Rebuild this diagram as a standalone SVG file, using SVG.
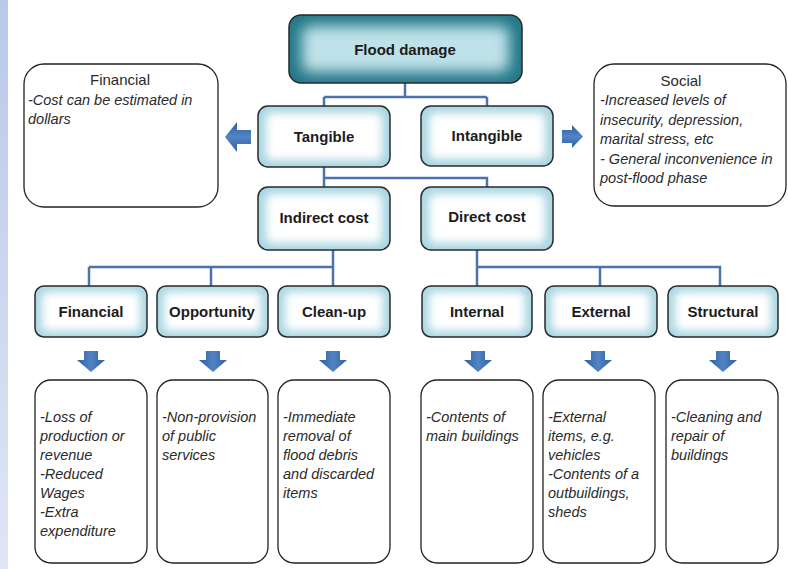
<svg xmlns="http://www.w3.org/2000/svg" width="788" height="569" viewBox="0 0 788 569">
  <defs>
    <linearGradient id="strip" x1="0" y1="0" x2="0" y2="1">
      <stop offset="0" stop-color="#b9c9ea"/>
      <stop offset="1" stop-color="#dfe6f5"/>
    </linearGradient>
    <linearGradient id="arrowGrad" x1="0" y1="0" x2="1" y2="0">
      <stop offset="0" stop-color="#2f5f9f"/>
      <stop offset="0.5" stop-color="#5283c4"/>
      <stop offset="1" stop-color="#2f5f9f"/>
    </linearGradient>
    <linearGradient id="arrowGradV" x1="0" y1="0" x2="0" y2="1">
      <stop offset="0" stop-color="#2f5f9f"/>
      <stop offset="0.5" stop-color="#5283c4"/>
      <stop offset="1" stop-color="#2f5f9f"/>
    </linearGradient>
    <filter id="soft" x="-20%" y="-30%" width="140%" height="160%">
      <feGaussianBlur stdDeviation="4"/>
    </filter>
    <filter id="softBig" x="-20%" y="-30%" width="140%" height="160%">
      <feGaussianBlur stdDeviation="7"/>
    </filter>
  </defs>
  <style>
    .base{fill:#a9d6e2}
    .inner{fill:#ffffff;filter:url(#soft)}
    .outline{fill:none;stroke:#2a2a2a;stroke-width:1.5}
    .topbase{fill:#247888}
    .topinner{fill:#bfe2e9;filter:url(#softBig)}
    .lbl{font-family:"Liberation Sans",Arial,sans-serif;font-weight:bold;font-size:15px;fill:#1c1c1c;text-anchor:middle}
    .note{fill:#ffffff;stroke:#222222;stroke-width:1.3}
    .hd{font-family:"Liberation Sans",Arial,sans-serif;font-size:15px;fill:#2a2a2a;text-anchor:middle}
    .it{font-family:"Liberation Sans",Arial,sans-serif;font-style:italic;font-size:14.5px;fill:#2a2a2a}
    .conn{fill:none;stroke:#4d73ad;stroke-width:2.5}
    .arr{fill:url(#arrowGrad)}
    .arrv{fill:url(#arrowGradV)}
  </style>

  <rect x="0" y="0" width="788" height="569" fill="#ffffff"/>
  <rect x="0" y="0" width="8" height="569" fill="url(#strip)"/>

  <g id="connectors">
    <path class="conn" d="M405,83 V97 M324,97 H487 M324,97 V106 M487,97 V106"/>
    <path class="conn" d="M324,167 V187 M324,178 H487 V187"/>
    <path class="conn" d="M333,250 V286 M89,267 H333 M89,267 V286 M211,267 V286"/>
    <path class="conn" d="M477,250 V286 M477,267 H720 V286 M600,267 V286"/>
  </g>

  <g id="flood-damage">
    <rect class="topbase" x="289" y="15" width="233" height="68" rx="12"/>
    <rect class="topinner" x="302" y="26" width="207" height="46" rx="8"/>
    <rect class="outline" x="289" y="15" width="233" height="68" rx="12"/>
    <text class="lbl" x="405" y="55">Flood damage</text>
  </g>

  <g id="tangible">
    <rect class="base" x="258" y="106" width="132" height="61" rx="10"/>
    <rect class="inner" x="266" y="113" width="116" height="47" rx="6"/>
    <rect class="outline" x="258" y="106" width="132" height="61" rx="10"/>
    <text class="lbl" x="324" y="142">Tangible</text>
  </g>

  <g id="intangible">
    <rect class="base" x="421" y="106" width="132" height="60" rx="10"/>
    <rect class="inner" x="429" y="113" width="116" height="46" rx="6"/>
    <rect class="outline" x="421" y="106" width="132" height="60" rx="10"/>
    <text class="lbl" x="487" y="141">Intangible</text>
  </g>

  <g id="financial-note">
    <rect class="note" x="24" y="64" width="194" height="143" rx="20"/>
    <text class="hd" x="120" y="85">Financial</text>
    <text class="it" x="28" y="105">-Cost can be estimated in</text>
    <text class="it" x="28" y="124">dollars</text>
  </g>

  <g id="social-note">
    <rect class="note" x="594" y="64" width="192" height="142" rx="20"/>
    <text class="hd" x="681" y="86">Social</text>
    <text class="it" x="600" y="105">-Increased levels of</text>
    <text class="it" x="600" y="124.5">insecurity, depression,</text>
    <text class="it" x="600" y="144">marital stress, etc</text>
    <text class="it" x="600" y="163.5">- General inconvenience in</text>
    <text class="it" x="600" y="183">post-flood phase</text>
  </g>

  <g id="arrow-left">
    <path class="arrv" d="M251,130 V144 H237 V152 L225,137 L237,122 V130 Z"/>
  </g>
  <g id="arrow-right">
    <path class="arrv" d="M562,130 V143 H572 V148 L583,136.5 L572,125 V130 Z"/>
  </g>

  <g id="indirect-cost">
    <rect class="base" x="258" y="187" width="132" height="63" rx="10"/>
    <rect class="inner" x="266" y="194" width="116" height="49" rx="6"/>
    <rect class="outline" x="258" y="187" width="132" height="63" rx="10"/>
    <text class="lbl" x="324" y="223">Indirect cost</text>
  </g>

  <g id="direct-cost">
    <rect class="base" x="421" y="187" width="132" height="63" rx="10"/>
    <rect class="inner" x="429" y="194" width="116" height="49" rx="6"/>
    <rect class="outline" x="421" y="187" width="132" height="63" rx="10"/>
    <text class="lbl" x="487" y="222">Direct cost</text>
  </g>

  <g id="financial">
    <rect class="base" x="35" y="286" width="112" height="51" rx="9"/>
    <rect class="inner" x="42" y="292" width="98" height="39" rx="5"/>
    <rect class="outline" x="35" y="286" width="112" height="51" rx="9"/>
    <text class="lbl" x="91" y="317">Financial</text>
  </g>
  <g id="opportunity">
    <rect class="base" x="157" y="286" width="111" height="51" rx="9"/>
    <rect class="inner" x="164" y="292" width="97" height="39" rx="5"/>
    <rect class="outline" x="157" y="286" width="111" height="51" rx="9"/>
    <text class="lbl" x="212" y="317">Opportunity</text>
  </g>
  <g id="clean-up">
    <rect class="base" x="278" y="286" width="112" height="51" rx="9"/>
    <rect class="inner" x="285" y="292" width="98" height="39" rx="5"/>
    <rect class="outline" x="278" y="286" width="112" height="51" rx="9"/>
    <text class="lbl" x="334" y="317">Clean-up</text>
  </g>
  <g id="internal">
    <rect class="base" x="422" y="286" width="110" height="51" rx="9"/>
    <rect class="inner" x="429" y="292" width="96" height="39" rx="5"/>
    <rect class="outline" x="422" y="286" width="110" height="51" rx="9"/>
    <text class="lbl" x="477" y="317">Internal</text>
  </g>
  <g id="external">
    <rect class="base" x="545" y="286" width="112" height="51" rx="9"/>
    <rect class="inner" x="552" y="292" width="98" height="39" rx="5"/>
    <rect class="outline" x="545" y="286" width="112" height="51" rx="9"/>
    <text class="lbl" x="601" y="317">External</text>
  </g>
  <g id="structural">
    <rect class="base" x="668" y="286" width="110" height="51" rx="9"/>
    <rect class="inner" x="675" y="292" width="96" height="39" rx="5"/>
    <rect class="outline" x="668" y="286" width="110" height="51" rx="9"/>
    <text class="lbl" x="723" y="317">Structural</text>
  </g>

  <g id="down-arrows">
    <path class="arr" d="M84,351 H98 V360 H105 L91,372 L77,360 H84 Z"/>
    <path class="arr" d="M206,351 H220 V360 H227 L213,372 L199,360 H206 Z"/>
    <path class="arr" d="M326,351 H340 V360 H347 L333,372 L319,360 H326 Z"/>
    <path class="arr" d="M471,351 H485 V360 H492 L478,372 L464,360 H471 Z"/>
    <path class="arr" d="M591,351 H605 V360 H612 L598,372 L584,360 H591 Z"/>
    <path class="arr" d="M716,351 H730 V360 H737 L723,372 L709,360 H716 Z"/>
  </g>

  <g id="financial-details">
    <rect class="note" x="35" y="380" width="112" height="183" rx="16"/>
    <text class="it" x="40" y="422">-Loss of</text>
    <text class="it" x="40" y="441">production or</text>
    <text class="it" x="40" y="460">revenue</text>
    <text class="it" x="40" y="479">-Reduced</text>
    <text class="it" x="40" y="498">Wages</text>
    <text class="it" x="40" y="517">-Extra</text>
    <text class="it" x="40" y="536">expenditure</text>
  </g>
  <g id="opportunity-details">
    <rect class="note" x="157" y="380" width="111" height="183" rx="16"/>
    <text class="it" x="162" y="422">-Non-provision</text>
    <text class="it" x="162" y="441">of public</text>
    <text class="it" x="162" y="460">services</text>
  </g>
  <g id="clean-up-details">
    <rect class="note" x="278" y="380" width="112" height="183" rx="16"/>
    <text class="it" x="283" y="422">-Immediate</text>
    <text class="it" x="283" y="441">removal of</text>
    <text class="it" x="283" y="460">flood debris</text>
    <text class="it" x="283" y="479">and discarded</text>
    <text class="it" x="283" y="498">items</text>
  </g>
  <g id="internal-details">
    <rect class="note" x="421" y="380" width="112" height="183" rx="16"/>
    <text class="it" x="426" y="422">-Contents of</text>
    <text class="it" x="426" y="441">main buildings</text>
  </g>
  <g id="external-details">
    <rect class="note" x="543" y="380" width="112" height="183" rx="16"/>
    <text class="it" x="548" y="422">-External</text>
    <text class="it" x="548" y="441">items, e.g.</text>
    <text class="it" x="548" y="460">vehicles</text>
    <text class="it" x="548" y="479">-Contents of a</text>
    <text class="it" x="548" y="498">outbuildings,</text>
    <text class="it" x="548" y="517">sheds</text>
  </g>
  <g id="structural-details">
    <rect class="note" x="666" y="380" width="112" height="183" rx="16"/>
    <text class="it" x="671" y="422">-Cleaning and</text>
    <text class="it" x="671" y="441">repair of</text>
    <text class="it" x="671" y="460">buildings</text>
  </g>
</svg>
